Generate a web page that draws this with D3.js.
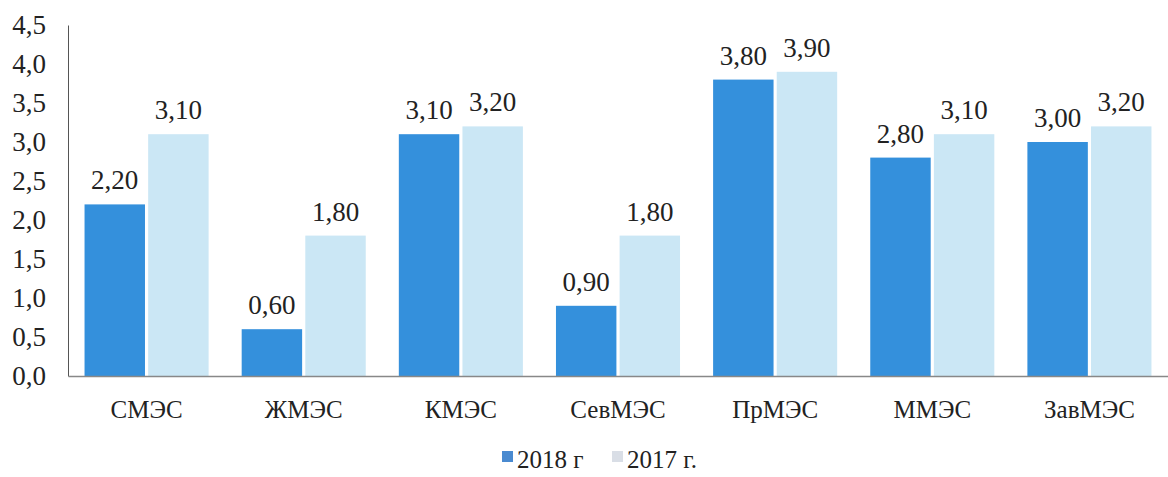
<!DOCTYPE html>
<html>
<head>
<meta charset="utf-8">
<script src="https://cdn.jsdelivr.net/npm/d3@7"></script>
<style>
	body { margin: 0; background: #fff; }
	svg text { font-family: "Liberation Serif", "Times New Roman", "DejaVu Serif", serif !important; fill: #222; }
</style>
</head>
<body>
<div id="chart"></div>
<script>
// data
var categories = ["СМЭС", "ЖМЭС", "КМЭС", "СевМЭС", "ПрМЭС", "ММЭС", "ЗавМЭС"];
var series = ["2018 г", "2017 г."];
var values2018 = [2.20, 0.60, 3.10, 0.90, 3.80, 2.80, 3.00];
var values2017 = [3.10, 1.80, 3.20, 1.80, 3.90, 3.10, 3.20];
var yTicks = [0, 0.5, 1, 1.5, 2, 2.5, 3, 3.5, 4, 4.5];

var width = 1168,
	height = 477;

var colors = ["#3490dc", "#cbe7f5"];
var legendColors = ["#4a8ad0", "#d9dee6"];

var svg = d3.select("#chart").append("svg")
	.attr("width", width)
	.attr("height", height);

var x0 = d3.scaleBand()
	.domain(categories)
	.range([68, 1168])
	.paddingInner(0.17)
	.paddingOuter(0.085);

var x1 = d3.scaleBand()
	.domain(series)
	.range([0, x0.bandwidth()])
	.padding(0.05);

var y = d3.scaleLinear()
	.domain([0, 4.5])
	.range([376, 25]);

var fmt = function(v, n){ return v.toFixed(n).replace(".", ","); };

// y axis
var yAxis = svg.append("g")
	.attr("transform", "translate(68,0)")
	.call(d3.axisLeft(y).tickValues(yTicks).tickSize(0).tickPadding(22).tickFormat(d => fmt(d, 1)));
yAxis.select(".domain").attr("stroke", "#555");
yAxis.selectAll("text").attr("font-size", 27).attr("fill", "#222");

// bars
var data = categories.map((c, i) => ({cat: c, vals: [values2018[i], values2017[i]]}));

var group = svg.append("g").selectAll("g")
	.data(data)
	.enter()
	.append("g")
	.attr("transform", d => "translate(" + x0(d.cat) + ",0)");

group.selectAll("rect")
	.data(d => d.vals.map((v, j) => ({s: series[j], v: v, j: j})))
	.enter()
	.append("rect")
	.attr("x", d => x1(d.s))
	.attr("y", d => y(d.v))
	.attr("width", x1.bandwidth())
	.attr("height", d => y(0) - y(d.v))
	.attr("fill", d => colors[d.j]);

group.selectAll("text.val")
	.data(d => d.vals.map((v, j) => ({s: series[j], v: v})))
	.enter()
	.append("text")
	.attr("class", "val")
	.attr("x", d => x1(d.s) + x1.bandwidth() / 2)
	.attr("y", d => y(d.v) - 15)
	.attr("text-anchor", "middle")
	.attr("font-size", 27)
	.text(d => fmt(d.v, 2));

// x axis
var xAxis = svg.append("g")
	.attr("transform", "translate(0,376)")
	.call(d3.axisBottom(x0).tickSize(0).tickPadding(24));
xAxis.select(".domain").attr("stroke", "#888").attr("stroke-width", 1.5);
xAxis.selectAll("text").attr("font-size", 25).attr("fill", "#222");

// legend
var legend = svg.append("g").attr("transform", "translate(502,468)");
var legendX = [0, 110];
series.forEach(function(s, i){
	legend.append("rect")
		.attr("x", legendX[i])
		.attr("y", -17)
		.attr("width", 11)
		.attr("height", 11)
		.attr("fill", legendColors[i]);
	legend.append("text")
		.attr("x", legendX[i] + 15)
		.attr("y", 0)
		.attr("font-size", 25)
		.text(s);
});
</script>
</body>
</html>
